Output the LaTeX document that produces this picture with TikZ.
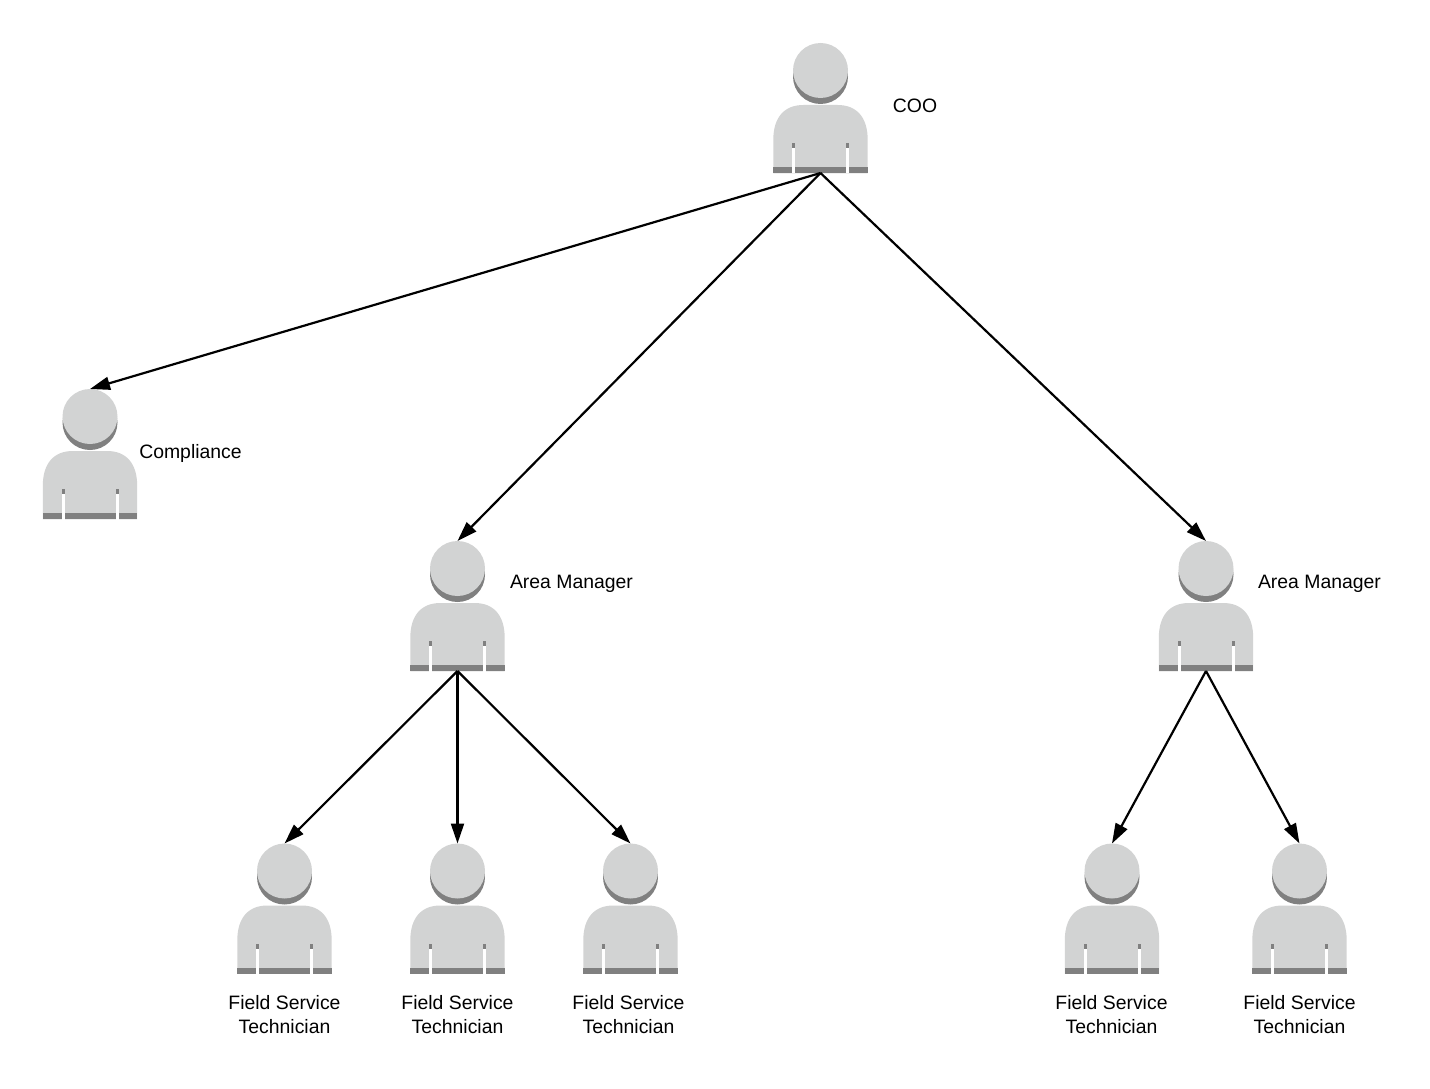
\documentclass[tikz,border=0pt]{standalone}
\usepackage{fontspec}
\setmainfont{Liberation Sans}
\usetikzlibrary{arrows.meta}
\definecolor{figlight}{HTML}{D2D3D3}
\definecolor{figdark}{HTML}{808080}
\tikzset{
  x=1pt,y=-1pt,
  personbox/.style={minimum width=95pt,minimum height=130pt,inner sep=0pt,outer sep=0pt},
  lbl/.style={font=\fontsize{19.4}{24}\selectfont,align=center,inner sep=0pt,text=black},
  link/.style={line width=2.2pt,draw=black,-{Triangle[length=20pt,width=13pt]},shorten >=0pt},
  personfig/.pic={
    \fill[figdark] (0,-31.5) circle[radius=27.5];
    \fill[figlight] (0,-37.5) circle[radius=27.5];
    \fill[figlight] (-47.2,65.3) -- (-47.2,32) .. controls (-47.2,9) and (-36,-3) .. (-17,-3)
       -- (17,-3) .. controls (36,-3) and (47.2,9) .. (47.2,32) -- (47.2,65.3) -- cycle;
    \fill[figdark] (-47.2,59.3) rectangle (47.2,65.3);
    \fill[white] (-28.5,40) rectangle (-25.5,65.5);
    \fill[white] (25.5,40) rectangle (28.5,65.5);
    \fill[figdark] (-28.5,35.3) rectangle (-25.5,40);
    \fill[figdark] (25.5,35.3) rectangle (28.5,40);
  }
}
\begin{document}
\begin{tikzpicture}
\useasboundingbox (0,0) rectangle (1430,1089);
\node[personbox] (coo) at (820.5,108) {};
\node[personbox] (comp) at (90,454) {};
\node[personbox] (am1) at (457.5,606) {};
\node[personbox] (am2) at (1206,606) {};
\node[personbox] (t1) at (284.5,908.5) {};
\node[personbox] (t2) at (457.5,908.5) {};
\node[personbox] (t3) at (630.5,908.5) {};
\node[personbox] (t4) at (1112,908.5) {};
\node[personbox] (t5) at (1299.5,908.5) {};
\foreach \n in {coo,comp,am1,am2,t1,t2,t3,t4,t5} { \pic at (\n) {personfig}; }
\node[lbl] (lcoo) at (915,106) {COO};
\node[lbl] (lcomp) at (190.5,453) {Compliance};
\node[lbl] (lam1) at (571.5,584) {Area Manager};
\node[lbl] (lam2) at (1319.5,584) {Area Manager};
\node[lbl] (lt1) at (284.5,1014.7) {Field Service\\Technician};
\node[lbl] (lt2) at (457.5,1014.7) {Field Service\\Technician};
\node[lbl] (lt3) at (628.5,1014.7) {Field Service\\Technician};
\node[lbl] (lt4) at (1111.5,1014.7) {Field Service\\Technician};
\node[lbl] (lt5) at (1299.5,1014.7) {Field Service\\Technician};
\draw[link] (coo.south) -- (comp.north);
\draw[link] (coo.south) -- (am1.north);
\draw[link] (coo.south) -- (am2.north);
\draw[link] (am1.south) -- (t1.north);
\draw[link] (am1.south) -- (t2.north);
\draw[link] (am1.south) -- (t3.north);
\draw[link] (am2.south) -- (t4.north);
\draw[link] (am2.south) -- (t5.north);
\end{tikzpicture}
\end{document}
